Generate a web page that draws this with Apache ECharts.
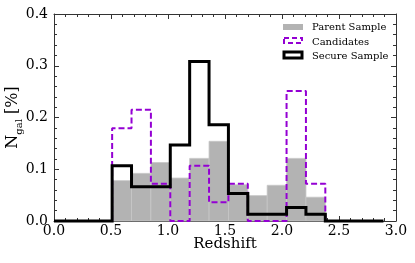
<!DOCTYPE html>
<html>
<head>
<meta charset="utf-8">
<script src="https://cdn.jsdelivr.net/npm/echarts@6/dist/echarts.min.js"></script>
<style>html,body{margin:0;padding:0;background:#fff}#c{width:415px;height:263px}</style>
</head>
<body>
<div id="c"></div>
<script>
const binEdges = [0, 0.17, 0.34, 0.51, 0.68, 0.85, 1.02, 1.19, 1.36, 1.53, 1.70, 1.87, 2.04, 2.21, 2.38, 2.55, 2.72, 2.89];
const parentValues = [0, 0, 0, 0.078, 0.092, 0.113, 0.083, 0.121, 0.154, 0.070, 0.049, 0.069, 0.121, 0.046, 0, 0, 0];
const candidateValues = [null, null, null, 0.179, 0.215, 0.072, 0.0, 0.107, 0.036, 0.072, 0.0, 0.0, 0.251, 0.072, null, null, null];
const secureValues = [0, 0, 0, 0.107, 0.066, 0.066, 0.147, 0.308, 0.186, 0.053, 0.013, 0.013, 0.026, 0.013, 0, 0, 0];
const xTicks = [0.0, 0.5, 1.0, 1.5, 2.0, 2.5, 3.0];
const yTicks = [0.0, 0.1, 0.2, 0.3, 0.4];
const legendNames = ['Parent Sample', 'Candidates', 'Secure Sample'];

const FONT = 'DejaVu Serif';
const AX = '#333';

function stepPoints(vals) {
  const pts = [];
  let first = -1, last = -1;
  vals.forEach((v, i) => { if (v !== null) { if (first < 0) first = i; last = i; } });
  pts.push([binEdges[first], 0]);
  for (let i = first; i <= last; i++) pts.push([binEdges[i], vals[i]]);
  pts.push([binEdges[last + 1], vals[last]]);
  pts.push([binEdges[last + 1], 0]);
  return pts;
}

const parentData = [];
parentValues.forEach((v, i) => { if (v > 0) parentData.push([binEdges[i], binEdges[i + 1], v]); });

function xAxisCfg(pos, showLabel) {
  return {
    type: 'value', position: pos, min: xTicks[0], max: xTicks[xTicks.length - 1], interval: 0.5,
    axisLine: { show: true, onZero: false, lineStyle: { color: AX, width: 1 } },
    axisTick: { show: true, inside: true, length: 5, lineStyle: { color: AX, width: 1 } },
    minorTick: { show: true, splitNumber: 5, length: 3, lineStyle: { color: AX, width: 1 } },
    splitLine: { show: false },
    axisLabel: { show: showLabel, formatter: v => v.toFixed(1), fontFamily: FONT, fontSize: 14, color: '#000', margin: 3 },
    name: showLabel ? 'Redshift' : '', nameLocation: 'middle', nameGap: 16, nameMoveOverlap: false,
    nameTextStyle: { fontFamily: FONT, fontSize: 15, color: '#000' }
  };
}
function yAxisCfg(pos, showLabel) {
  return {
    type: 'value', position: pos, min: yTicks[0], max: yTicks[yTicks.length - 1], interval: 0.1,
    axisLine: { show: true, onZero: false, lineStyle: { color: AX, width: 1 } },
    axisTick: { show: true, inside: true, length: 5, lineStyle: { color: AX, width: 1 } },
    minorTick: { show: true, splitNumber: 5, length: 3, lineStyle: { color: AX, width: 1 } },
    splitLine: { show: false },
    axisLabel: { show: showLabel, formatter: v => v.toFixed(1), fontFamily: FONT, fontSize: 14, color: '#000', margin: 6 },
    name: showLabel ? '{n|N}{s|gal}{n| [%]}' : '', nameLocation: 'middle', nameGap: 33, nameRotate: 90, nameMoveOverlap: false,
    nameTextStyle: {
      fontFamily: FONT, fontSize: 16, color: '#000',
      rich: {
        n: { fontFamily: FONT, fontSize: 16, color: '#000' },
        s: { fontFamily: FONT, fontSize: 10, color: '#000', verticalAlign: 'bottom', padding: [0, 0, -3, 0] }
      }
    }
  };
}

const chart = echarts.init(document.getElementById('c'), null, { renderer: 'canvas' });
const lx = 283, ly = 24;
chart.setOption({
  animation: false,
  grid: { left: 54, right: 19, top: 14, bottom: 42, containLabel: false, outerBoundsMode: 'none' },
  xAxis: [xAxisCfg('bottom', true), xAxisCfg('top', false)],
  yAxis: [yAxisCfg('left', true), yAxisCfg('right', false)],
  series: [
    {
      name: legendNames[0], type: 'custom', data: parentData, encode: { x: [0, 1], y: 2 },
      renderItem: function (params, api) {
        const p0 = api.coord([api.value(0), api.value(2)]);
        const p1 = api.coord([api.value(1), 0]);
        return { type: 'rect', shape: { x: p0[0], y: p0[1], width: p1[0] - p0[0], height: p1[1] - p0[1] },
          style: { fill: '#b3b3b3', stroke: '#c6c6c6', lineWidth: 0.8 } };
      }, z: 1
    },
    {
      name: legendNames[1], type: 'line', data: stepPoints(candidateValues), step: 'end', symbol: 'none',
      lineStyle: { color: '#9400D3', width: 2, type: [6, 3] }, clip: false, z: 2
    },
    {
      name: legendNames[2], type: 'line', data: stepPoints(secureValues), step: 'end', symbol: 'none',
      lineStyle: { color: '#000', width: 3, join: 'miter' }, clip: false, z: 3
    }
  ],
  graphic: [
    { type: 'rect', shape: { x: lx, y: ly, width: 20, height: 6 }, style: { fill: '#b3b3b3' } },
    { type: 'rect', shape: { x: lx + 1, y: ly + 14, width: 18, height: 5 }, style: { fill: 'none', stroke: '#9400D3', lineWidth: 2, lineDash: [5, 3] } },
    { type: 'rect', shape: { x: lx + 1, y: ly + 28, width: 18, height: 6 }, style: { fill: 'none', stroke: '#000', lineWidth: 3 } },
    { type: 'text', x: 312, y: 27.5, style: { text: legendNames[0], font: '10px "DejaVu Serif"', fill: '#000', verticalAlign: 'middle' } },
    { type: 'text', x: 312, y: 42.3, style: { text: legendNames[1], font: '10px "DejaVu Serif"', fill: '#000', verticalAlign: 'middle' } },
    { type: 'text', x: 312, y: 56.7, style: { text: legendNames[2], font: '10px "DejaVu Serif"', fill: '#000', verticalAlign: 'middle' } }
  ]
});
</script>
</body>
</html>
